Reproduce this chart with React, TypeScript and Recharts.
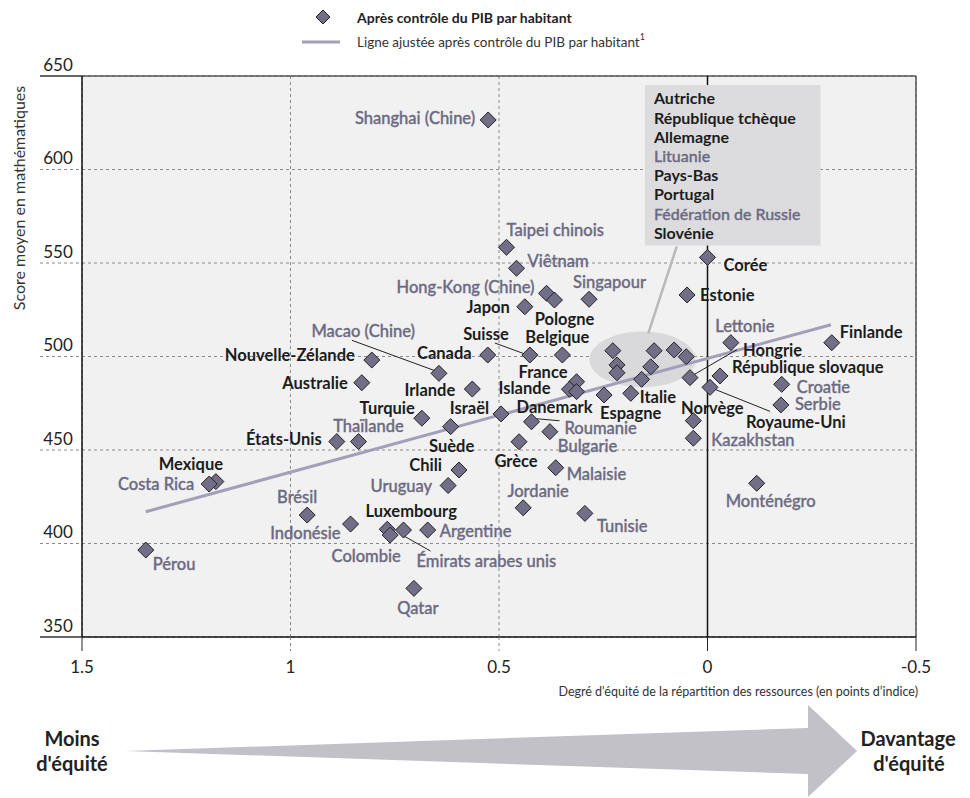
import React from 'react';
import {
  ScatterChart,
  Scatter,
  XAxis,
  YAxis,
  CartesianGrid,
  ReferenceLine,
  ReferenceArea,
  ReferenceDot,
} from 'recharts';

const FONT = 'Lato, "Open Sans", sans-serif';
const GREY_TXT = '#6c6a83';
const DARK_TXT = '#1c1c1c';
const DIAMOND_FILL = '#716e88';
const FIT_COLOR = '#a29fb8';

// Pays / économies, indice d'équité des ressources (x) et score en maths (y)
const COUNTRIES = [
  'Shanghai (Chine)', 'Taipei chinois', 'Viêtnam', 'Hong-Kong (Chine)', 'Pologne',
  'Singapour', 'Japon', 'Corée', 'Estonie', 'Suisse', 'Belgique', 'Canada',
  'Macao (Chine)', 'Nouvelle-Zélande', 'Australie', 'Irlande', 'France', 'Islande',
  'Danemark', 'Espagne', 'Italie', 'Roumanie', 'Bulgarie', 'Grèce', 'Malaisie',
  'Jordanie', 'Tunisie', 'Israël', 'Turquie', 'Thaïlande', 'Suède', 'États-Unis',
  'Chili', 'Uruguay', 'Mexique', 'Costa Rica', 'Pérou', 'Brésil', 'Indonésie',
  'Luxembourg', 'Colombie', 'Émirats arabes unis', 'Argentine', 'Qatar', 'Lettonie',
  'Finlande', 'Hongrie', 'République slovaque', 'Royaume-Uni', 'Norvège',
  'Kazakhstan', 'Croatie', 'Serbie', 'Monténégro',
  'Autriche', 'République tchèque', 'Allemagne', 'Lituanie', 'Pays-Bas', 'Portugal',
  'Fédération de Russie', 'Slovénie',
];

const EQUITY = [
  0.526, 0.482, 0.458, 0.386, 0.367,
  0.284, 0.438, 0.0, 0.049, 0.426, 0.348, 0.527,
  0.644, 0.805, 0.829, 0.564, 0.314, 0.331,
  0.314, 0.248, 0.184, 0.422, 0.378, 0.452, 0.364,
  0.442, 0.294, 0.495, 0.685, 0.837, 0.616, 0.889,
  0.596, 0.622, 1.179, 1.195, 1.347, 0.96, 0.856,
  0.768, 0.761, 0.729, 0.671, 0.704, -0.056,
  -0.298, 0.042, -0.03, -0.006, 0.034,
  0.034, -0.178, -0.176, -0.118,
  0.227, 0.128, 0.08, 0.051, 0.217, 0.217,
  0.136, 0.158,
];

const MATH = [
  626.5, 558.4, 547.2, 533.8, 530.2,
  530.6, 526.6, 553, 532.9, 500.8, 500.8, 500.8,
  491, 498.1, 486, 482.6, 486.5, 482.5,
  481.2, 479.4, 480.3, 465.1, 459.8, 454.4, 440.5,
  419.1, 416.1, 469.3, 467, 454.5, 462.5, 454.5,
  439.3, 431, 433.1, 431.8, 396.5, 415.2, 410.4,
  407.6, 404.5, 407.2, 407.2, 376, 507.4,
  507.4, 488.7, 489.6, 483.5, 465.7,
  456.3, 485.1, 474.1, 432.2,
  503.1, 503.1, 503.5, 499.9, 495.5, 491.3,
  494.5, 487.8,
];

// pays partenaires (étiquettes en gris)
const PARTNERS = [
  'Shanghai (Chine)', 'Taipei chinois', 'Viêtnam', 'Hong-Kong (Chine)', 'Singapour',
  'Macao (Chine)', 'Roumanie', 'Bulgarie', 'Malaisie', 'Jordanie', 'Tunisie',
  'Thaïlande', 'Uruguay', 'Costa Rica', 'Pérou', 'Brésil', 'Indonésie', 'Colombie',
  'Émirats arabes unis', 'Argentine', 'Qatar', 'Lettonie', 'Kazakhstan', 'Croatie',
  'Serbie', 'Monténégro', 'Lituanie', 'Fédération de Russie',
];

// pays du groupe entouré (listés dans l'encadré)
const CLUSTER = [
  'Autriche', 'République tchèque', 'Allemagne', 'Lituanie', 'Pays-Bas', 'Portugal',
  'Fédération de Russie', 'Slovénie',
];

const X_TICKS = [1.5, 1, 0.5, 0, -0.5];
const Y_TICKS = [350, 400, 450, 500, 550, 600, 650];

// ligne ajustée (extrémités)
const FIT_X = [1.347, -0.296];
const FIT_Y = [417, 517];

const data = COUNTRIES.map((name, i) => ({ name, x: EQUITY[i], y: MATH[i] }));

type Layout = [string, number, number, number[]?];

// placement des étiquettes par rapport au losange (px)
const LABEL_POS: Record<string, Layout> = {
  'Shanghai (Chine)': ['end', -13, -2],
  'Taipei chinois': ['start', 0, -17],
  'Viêtnam': ['start', 11, -7],
  'Hong-Kong (Chine)': ['end', -12, -6],
  'Pologne': ['middle', 10, 19],
  'Singapour': ['start', -16, -17],
  'Japon': ['end', -15, 0],
  'Corée': ['start', 16, 8],
  'Estonie': ['start', 13, 0],
  'Suisse': ['end', -21, -21, [-35, -12, -5, -1]],
  'Belgique': ['middle', -5, -18],
  'Canada': ['end', -16, -2],
  'Macao (Chine)': ['end', -24, -42, [-87, -33, -5, -3]],
  'Nouvelle-Zélande': ['end', -17, -5],
  'Australie': ['end', -14, 0],
  'Irlande': ['end', -17, 1],
  'France': ['end', -9, -10],
  'Islande': ['end', -19, -1],
  'Danemark': ['middle', -22, 15],
  'Espagne': ['start', -4, 18],
  'Italie': ['start', 9, 4],
  'Roumanie': ['start', 33, 6, [5, -3, 28, -1]],
  'Bulgarie': ['start', 8, 14],
  'Grèce': ['middle', -3, 19],
  'Malaisie': ['start', 11, 6],
  'Jordanie': ['middle', 15, -17],
  'Tunisie': ['start', 12, 13],
  'Israël': ['end', -12, -6],
  'Turquie': ['end', -7, -10],
  'Thaïlande': ['middle', 10, -16],
  'Suède': ['middle', 1, 19],
  'États-Unis': ['end', -15, -3],
  'Chili': ['end', -17, -5],
  'Uruguay': ['end', -16, 0],
  'Mexique': ['middle', -25, -18],
  'Costa Rica': ['end', -15, 0],
  'Pérou': ['start', 7, 14],
  'Brésil': ['middle', -10, -18],
  'Indonésie': ['end', -10, 9],
  'Luxembourg': ['middle', 24, -18],
  'Colombie': ['middle', -24, 21],
  'Émirats arabes unis': ['start', 13, 31, [-3, 4, 27, 21]],
  'Argentine': ['start', 12, 1],
  'Qatar': ['middle', 4, 20],
  'Lettonie': ['middle', 14, -17],
  'Finlande': ['start', 8, -11],
  'Hongrie': ['start', 53, -28, [47, -28, 4, -3]],
  'République slovaque': ['start', 12, -9],
  'Croatie': ['start', 15, 3],
  'Serbie': ['start', 14, -1],
  'Royaume-Uni': ['start', 36, 35, [5, 2, 60, 24]],
  'Norvège': ['middle', 19, -13],
  'Kazakhstan': ['start', 18, 2],
  'Monténégro': ['middle', 14, 18],
};

const Diamond = (props: any) => {
  const { cx, cy } = props;
  const r = 8;
  return (
    <polygon
      points={`${cx},${cy - r} ${cx + r},${cy} ${cx},${cy + r} ${cx - r},${cy}`}
      fill={DIAMOND_FILL}
      stroke="#222"
      strokeWidth={1}
    />
  );
};

const PointLabel = (props: any) => {
  const { cx, cy, payload } = props;
  const pos = LABEL_POS[payload.name];
  if (!pos || cx == null) return <g />;
  const [anchor, dx, dy, lead] = pos;
  const grey = PARTNERS.includes(payload.name);
  return (
    <g>
      {lead && (
        <line
          x1={cx + lead[0]} y1={cy + lead[1]} x2={cx + lead[2]} y2={cy + lead[3]}
          stroke="#222" strokeWidth={1}
        />
      )}
      <text
        x={cx + dx}
        y={cy + dy}
        textAnchor={anchor as any}
        dominantBaseline="central"
        fill={grey ? GREY_TXT : DARK_TXT}
        stroke={grey ? GREY_TXT : 'none'}
        strokeWidth={grey ? 0.35 : 0}
        fontWeight={grey ? 500 : 700}
        fontSize={16.5}
        fontFamily={FONT}
      >
        {payload.name}
      </text>
    </g>
  );
};

const YTick = (props: any) => {
  const { y, payload } = props;
  const solid = payload.value === 350 || payload.value === 650;
  return (
    <g>
      <line
        x1={40} x2={82} y1={y} y2={y}
        stroke={solid ? '#333' : '#8a8a8a'}
        strokeWidth={solid ? 1.5 : 1}
        strokeDasharray={solid ? undefined : '3 3'}
      />
      <text x={58} y={y - 12} textAnchor="middle" dominantBaseline="central"
        fontSize={17} fontFamily={FONT} fill="#222">
        {payload.value}
      </text>
    </g>
  );
};

const XTick = (props: any) => {
  const { x, payload } = props;
  const dashed = payload.value === 1 || payload.value === 0.5;
  return (
    <g>
      <line
        x1={x} x2={x} y1={637} y2={651}
        stroke={dashed ? '#8a8a8a' : '#222'}
        strokeDasharray={dashed ? '3 3' : undefined}
      />
      <text x={x} y={666} textAnchor="middle" dominantBaseline="central"
        fontSize={17} fontFamily={FONT} fill="#222">
        {String(payload.value)}
      </text>
    </g>
  );
};

const ClusterBox = (props: any) => {
  const { x, y, width, height } = props;
  return (
    <g>
      <rect x={x} y={y} width={width} height={height} fill="#dcdcde" />
      {CLUSTER.map((name, i) => {
        const grey = PARTNERS.includes(name);
        return (
          <text
            key={name}
            x={x + 9}
            y={y + 13 + i * 19.2}
            dominantBaseline="central"
            fontSize={16}
            fontFamily={FONT}
            fontWeight={grey ? 500 : 700}
            fill={grey ? GREY_TXT : DARK_TXT}
            stroke={grey ? GREY_TXT : 'none'}
            strokeWidth={grey ? 0.35 : 0}
          >
            {name}
          </text>
        );
      })}
    </g>
  );
};

const ClusterEllipse = (props: any) => (
  <ellipse cx={props.cx} cy={props.cy} rx={53} ry={28} fill="#d9d9db" />
);

export default function App() {
  return (
    <div style={{ position: 'absolute', left: 0, top: 0, width: 970, height: 798, background: '#fff' }}>
      <ScatterChart width={970} height={798} margin={{ top: 76, right: 54, bottom: 131, left: 0 }}>
        <CartesianGrid stroke="#8a8a8a" strokeDasharray="3 3" fill="#f0f1f0" fillOpacity={1} />
        <XAxis
          type="number"
          dataKey="x"
          domain={[-0.5, 1.5]}
          reversed
          ticks={X_TICKS}
          tick={<XTick />}
          tickLine={false}
          axisLine={{ stroke: '#111', strokeWidth: 1.5 }}
          height={30}
          allowDataOverflow
        />
        <YAxis
          type="number"
          dataKey="y"
          domain={[350, 650]}
          ticks={Y_TICKS}
          tick={<YTick />}
          tickLine={false}
          axisLine={{ stroke: '#111', strokeWidth: 1.5 }}
          width={82}
          allowDataOverflow
        />
        <ReferenceDot x={0.156} y={498.4} shape={<ClusterEllipse />} zIndex={50} />
        <ReferenceLine y={650} stroke="#555" strokeWidth={1.5} zIndex={55} />
        <ReferenceLine x={-0.5} stroke="#555" strokeWidth={1.5} zIndex={55} />
        <ReferenceLine x={0} stroke="#111" strokeWidth={1.5} zIndex={60} />
        <ReferenceArea x1={0.15} x2={-0.271} y1={559.3} y2={645.2} shape={<ClusterBox />} zIndex={70} />
        <ReferenceLine
          segment={[{ x: 0.074, y: 558.7 }, { x: 0.142, y: 512.4 }]}
          stroke="#b9b9bc"
          strokeWidth={2.5}
          zIndex={80}
        />
        <ReferenceLine
          segment={[{ x: FIT_X[0], y: FIT_Y[0] }, { x: FIT_X[1], y: FIT_Y[1] }]}
          stroke={FIT_COLOR}
          strokeWidth={3}
          zIndex={90}
        />
        <Scatter data={data} shape={<PointLabel />} isAnimationActive={false} zIndex={590} />
        <Scatter data={data} shape={<Diamond />} isAnimationActive={false} zIndex={600} />
      </ScatterChart>

      <svg
        width={970}
        height={798}
        style={{ position: 'absolute', left: 0, top: 0, pointerEvents: 'none' }}
        fontFamily={FONT}
      >
        {/* légende */}
        <polygon points="323,10 330,17 323,24 316,17" fill={DIAMOND_FILL} stroke="#222" />
        <text x={357} y={17} dominantBaseline="central" fontSize={14} fontWeight={700} fill="#222">
          Après contrôle du PIB par habitant
        </text>
        <line x1={302} x2={340} y1={42} y2={42} stroke={FIT_COLOR} strokeWidth={3} />
        <text x={357} y={42} dominantBaseline="central" fontSize={13.5} fill="#333">
          Ligne ajustée après contrôle du PIB par habitant
          <tspan fontSize={9} dy={-6}>1</tspan>
        </text>

        {/* titres des axes */}
        <text
          transform="translate(18,198) rotate(-90)"
          textAnchor="middle"
          dominantBaseline="central"
          fontSize={16}
          fill="#333"
        >
          Score moyen en mathématiques
        </text>
        <text x={918} y={691} textAnchor="end" dominantBaseline="central" fontSize={12.5} fill="#333">
          Degré d'équité de la répartition des ressources (en points d’indice)
        </text>

        {/* flèche */}
        <polygon points="125,751 808,728 808,774" fill="#c3c1c8" />
        <polygon points="808,705 857,751 808,797" fill="#c3c1c8" />
        <text x={72} y={738} textAnchor="middle" dominantBaseline="central" fontSize={20} fontWeight={700} fill="#222">
          Moins
        </text>
        <text x={72} y={763} textAnchor="middle" dominantBaseline="central" fontSize={20} fontWeight={700} fill="#222">
          d'équité
        </text>
        <text x={908} y={738} textAnchor="middle" dominantBaseline="central" fontSize={20} fontWeight={700} fill="#222">
          Davantage
        </text>
        <text x={909} y={763} textAnchor="middle" dominantBaseline="central" fontSize={20} fontWeight={700} fill="#222">
          d'équité
        </text>
      </svg>
    </div>
  );
}
